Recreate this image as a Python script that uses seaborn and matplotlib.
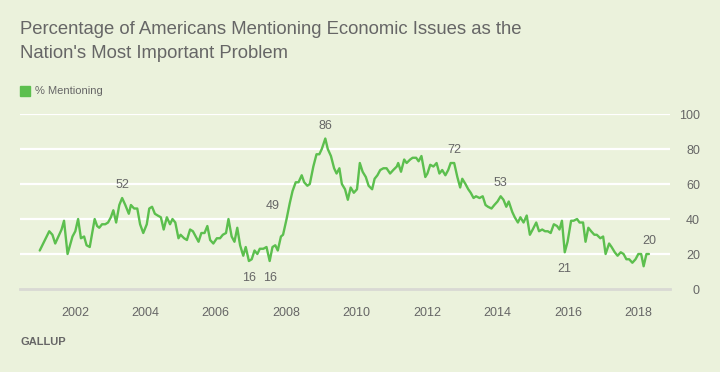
import pandas as pd
import matplotlib.pyplot as plt
import seaborn as sns

# decimal year of each poll
years = [
    2001.00, 2001.27, 2001.36, 2001.44, 2001.62, 2001.69, 2001.79, 2001.93,
    2002.01, 2002.09, 2002.17, 2002.26, 2002.33, 2002.42, 2002.56, 2002.63,
    2002.69, 2002.77, 2002.86, 2002.94, 2003.02, 2003.09, 2003.17, 2003.26,
    2003.34, 2003.43, 2003.53, 2003.59, 2003.68, 2003.77, 2003.85, 2003.94,
    2004.04, 2004.11, 2004.19, 2004.27, 2004.35, 2004.44, 2004.52, 2004.61,
    2004.70, 2004.77, 2004.85, 2004.94, 2005.00, 2005.10, 2005.18, 2005.27,
    2005.35, 2005.43, 2005.51, 2005.59, 2005.68, 2005.76, 2005.84, 2005.93,
    2006.03, 2006.12, 2006.20, 2006.29, 2006.36, 2006.45, 2006.53, 2006.61,
    2006.69, 2006.78, 2006.85, 2006.94, 2007.02, 2007.10, 2007.18, 2007.25,
    2007.35, 2007.44, 2007.53, 2007.61, 2007.69, 2007.76, 2007.85, 2007.91,
    2008.01, 2008.10, 2008.18, 2008.27, 2008.35, 2008.44, 2008.51, 2008.60,
    2008.67, 2008.77, 2008.86, 2008.94, 2009.01, 2009.11, 2009.18, 2009.27,
    2009.36, 2009.43, 2009.51, 2009.58, 2009.67, 2009.75, 2009.83, 2009.92,
    2010.01, 2010.09, 2010.17, 2010.26, 2010.34, 2010.44, 2010.51, 2010.59,
    2010.67, 2010.76, 2010.85, 2010.95, 2011.04, 2011.14, 2011.18, 2011.26,
    2011.35, 2011.42, 2011.52, 2011.59, 2011.69, 2011.76, 2011.84, 2011.95,
    2012.01, 2012.09, 2012.18, 2012.27, 2012.35, 2012.43, 2012.52, 2012.60,
    2012.67, 2012.77, 2012.86, 2012.94, 2013.00, 2013.09, 2013.17, 2013.24,
    2013.32, 2013.39, 2013.49, 2013.58, 2013.66, 2013.73, 2013.83, 2013.91,
    2014.00, 2014.09, 2014.17, 2014.25, 2014.32, 2014.42, 2014.49, 2014.58,
    2014.65, 2014.74, 2014.83, 2014.92, 2015.00, 2015.10, 2015.18, 2015.27,
    2015.35, 2015.43, 2015.51, 2015.60, 2015.69, 2015.76, 2015.83, 2015.91,
    2015.99, 2016.09, 2016.16, 2016.26, 2016.33, 2016.43, 2016.50, 2016.58,
    2016.66, 2016.75, 2016.82, 2016.92, 2017.00, 2017.07, 2017.17, 2017.24,
    2017.33, 2017.41, 2017.50, 2017.58, 2017.66, 2017.74, 2017.83, 2017.92,
    2018.00, 2018.08, 2018.15, 2018.23, 2018.30,
]

pct_mentioning = [
    22, 33, 31, 26, 34, 39, 20, 30,
    33, 40, 29, 30, 25, 24, 40, 36,
    35, 37, 37, 38, 41, 45, 38, 48,
    52, 48, 43, 48, 46, 46, 37, 32,
    37, 46, 47, 43, 42, 41, 34, 41,
    37, 40, 38, 29, 31, 29, 28, 34,
    33, 30, 27, 32, 32, 36, 28, 26,
    29, 29, 31, 32, 40, 30, 27, 35,
    25, 19, 24, 16, 17, 22, 20, 23,
    23, 24, 16, 24, 25, 22, 30, 31,
    40, 49, 56, 61, 61, 65, 61, 59,
    60, 70, 77, 77, 80, 86, 80, 76,
    69, 66, 69, 60, 57, 51, 58, 55,
    57, 72, 67, 64, 59, 57, 63, 65,
    68, 69, 69, 66, 68, 70, 72, 67,
    74, 72, 74, 75, 75, 73, 76, 64,
    66, 71, 70, 72, 66, 68, 65, 68,
    72, 72, 64, 58, 63, 60, 57, 55,
    52, 53, 52, 53, 48, 47, 46, 48,
    50, 53, 51, 47, 50, 44, 41, 38,
    41, 38, 42, 31, 34, 38, 33, 34,
    33, 33, 32, 37, 36, 34, 39, 21,
    27, 39, 39, 40, 38, 38, 27, 35,
    33, 31, 31, 29, 30, 20, 26, 24,
    21, 19, 21, 20, 17, 17, 15, 17,
    20, 20, 13, 20, 20,
]

# labelled polls: (year, value, placement)
label_years = [2003.34, 2006.94, 2007.53, 2008.10, 2009.11, 2012.77, 2014.09, 2015.91, 2018.30]
label_values = [52, 16, 16, 49, 86, 72, 53, 21, 20]
label_place = ["above", "below", "below", "left", "above", "above", "above", "below", "above"]

tick_years = [2002, 2004, 2006, 2008, 2010, 2012, 2014, 2016, 2018]
y_ticks = [0, 20, 40, 60, 80, 100]

BG = "#ebf2dc"
GREEN = "#5cbf4e"
TXT = "#666666"
AXIS_GRAY = "#d9d9d4"

sns.set_theme(style="white")
plt.rcParams["font.family"] = ["Liberation Sans", "DejaVu Sans"]

df = pd.DataFrame({"year": years, "pct": pct_mentioning})

fig = plt.figure(figsize=(7.2, 3.72), dpi=100, facecolor=BG)
ax = fig.add_axes([0.0278, 0.2231, 0.9028, 0.4704])
ax.set_facecolor(BG)

sns.lineplot(data=df, x="year", y="pct", color=GREEN, linewidth=1.7, ax=ax, legend=False)

ax.set_xlim(2000.44, 2018.90)
ax.set_ylim(0, 100)
ax.set_xticks(tick_years)
ax.set_xticklabels([str(t) for t in tick_years])
ax.set_yticks(y_ticks)
ax.set_xlabel("")
ax.set_ylabel("")

for v in y_ticks[1:]:
    ax.axhline(v, color="white", linewidth=1.6, zorder=0)

for s in ["top", "left", "right"]:
    ax.spines[s].set_visible(False)
ax.spines["bottom"].set_color(AXIS_GRAY)
ax.spines["bottom"].set_linewidth(2)

ax.yaxis.tick_right()
ax.tick_params(axis="y", length=0, pad=21.5, labelsize=9, labelcolor=TXT)
for lab in ax.get_yticklabels():
    lab.set_horizontalalignment("right")
ax.tick_params(axis="x", length=5, width=1.5, color=AXIS_GRAY, pad=8,
               labelsize=9, labelcolor=TXT, direction="out")

for x, v, p in zip(label_years, label_values, label_place):
    if p == "above":
        ax.annotate(str(v), (x, v), xytext=(0, 5), textcoords="offset points",
                    ha="center", va="bottom", fontsize=9, color=TXT)
    elif p == "below":
        ax.annotate(str(v), (x, v), xytext=(0, -8), textcoords="offset points",
                    ha="center", va="top", fontsize=9, color=TXT)
    else:
        ax.annotate(str(v), (x, v), xytext=(-7, -2), textcoords="offset points",
                    ha="right", va="center", fontsize=9, color=TXT)

fig.text(0.0278, 1 - 34 / 372, "Percentage of Americans Mentioning Economic Issues as the",
         ha="left", va="baseline", fontsize=13.3, color=TXT)
fig.text(0.0278, 1 - 58 / 372, "Nation's Most Important Problem",
         ha="left", va="baseline", fontsize=13.3, color=TXT)

fig.patches.append(plt.Rectangle((20 / 720, 1 - 96 / 372), 10 / 720, 10 / 372,
                                 transform=fig.transFigure, color=GREEN))
fig.text(35 / 720, 1 - 91 / 372, "% Mentioning", ha="left", va="center",
         fontsize=8, color=TXT)

fig.text(0.0278, 1 - 342 / 372, "GALLUP", ha="left", va="center",
         fontsize=8, color=TXT, fontweight="bold")

fig.savefig("out.png", dpi=100, facecolor=BG)
